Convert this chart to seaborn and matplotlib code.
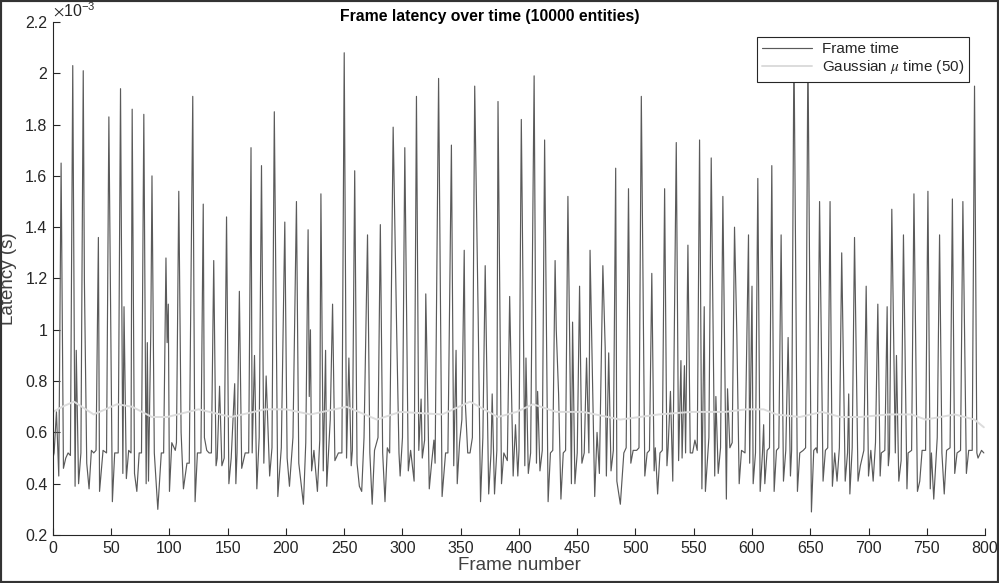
import numpy as np
import pandas as pd
import seaborn as sns
import matplotlib.pyplot as plt
from matplotlib.patches import Rectangle

# Frame time: frame index / latency (x1e-3 s)
frame_idx = [
    0, 1, 2, 3, 5, 7, 9, 11, 13, 15, 17, 19, 20, 22, 24, 26, 27, 29, 31, 33,
    35, 37, 39, 40, 43, 46, 48, 51, 53, 56, 58, 60, 61, 63, 65, 67, 68, 70, 72, 74,
    76, 78, 80, 81, 82, 84, 85, 87, 90, 93, 95, 97, 98, 99, 100, 102, 105, 106, 108, 110,
    112, 115, 117, 120, 122, 124, 127, 129, 130, 132, 134, 136, 138, 140, 141, 143, 145, 147, 149, 151,
    153, 156, 157, 158, 160, 162, 165, 168, 170, 171, 173, 175, 177, 179, 181, 183, 186, 188, 190, 193,
    196, 199, 201, 203, 206, 209, 211, 215, 217, 219, 220, 221, 222, 224, 227, 229, 230, 232, 234, 235,
    238, 240, 242, 245, 248, 250, 252, 254, 256, 257, 259, 261, 263, 265, 267, 270, 272, 274, 276, 279,
    281, 283, 285, 287, 289, 292, 295, 297, 298, 300, 302, 305, 307, 310, 312, 314, 316, 317, 319, 320,
    322, 323, 325, 327, 328, 331, 334, 337, 339, 342, 344, 346, 347, 349, 351, 353, 354, 356, 358, 360,
    362, 365, 367, 369, 371, 374, 376, 377, 379, 381, 382, 385, 387, 390, 392, 395, 397, 399, 400, 402,
    405, 406, 408, 410, 413, 415, 416, 418, 420, 422, 425, 427, 429, 431, 432, 434, 436, 438, 440, 442,
    445, 446, 448, 450, 452, 454, 456, 458, 460, 461, 465, 467, 469, 472, 474, 475, 477, 479, 481, 483,
    484, 487, 490, 492, 494, 496, 498, 501, 503, 505, 508, 510, 512, 514, 516, 517, 519, 521, 523, 525,
    527, 528, 530, 532, 535, 537, 539, 540, 542, 543, 545, 547, 549, 551, 553, 555, 557, 559, 560, 563,
    565, 568, 569, 571, 573, 575, 578, 579, 581, 583, 585, 587, 589, 591, 594, 597, 598, 600, 601, 603,
    605, 607, 609, 610, 611, 613, 615, 617, 619, 621, 623, 625, 627, 629, 631, 633, 634, 636, 639, 641,
    644, 646, 648, 651, 653, 655, 656, 658, 661, 663, 665, 667, 668, 669, 671, 673, 675, 677, 680, 682,
    683, 684, 686, 688, 691, 693, 696, 698, 700, 702, 704, 706, 708, 710, 711, 714, 716, 717, 718, 720,
    723, 724, 726, 728, 730, 733, 734, 737, 739, 742, 744, 746, 749, 751, 753, 754, 756, 759, 761, 763,
    765, 767, 770, 772, 774, 776, 779, 781, 784, 786, 789, 791, 793, 794, 797, 799,
]
frame_time = [
    0.50, 0.52, 0.60, 0.68, 0.43, 1.65, 0.46, 0.50, 0.52, 0.51, 2.03, 0.39, 0.92, 0.40, 0.52, 2.01, 1.19, 0.48, 0.38, 0.53,
    0.52, 0.53, 1.36, 0.37, 0.53, 0.52, 1.83, 0.33, 0.52, 0.52, 1.94, 0.44, 1.09, 0.42, 0.53, 0.52, 1.86, 0.44, 0.37, 0.52,
    0.52, 1.84, 0.40, 0.95, 0.41, 1.00, 1.60, 0.52, 0.30, 0.52, 0.52, 1.28, 0.95, 1.10, 0.37, 0.56, 0.53, 0.56, 1.54, 0.60,
    0.38, 0.48, 0.48, 1.91, 0.33, 0.52, 0.52, 1.49, 0.58, 0.53, 0.52, 0.52, 1.27, 0.47, 0.50, 0.78, 0.47, 0.50, 1.44, 0.40,
    0.50, 0.79, 0.40, 0.52, 1.15, 0.46, 0.52, 0.52, 1.71, 0.52, 0.90, 0.38, 0.58, 1.64, 0.48, 0.82, 0.43, 0.54, 1.85, 0.35,
    0.54, 1.42, 0.50, 0.39, 0.58, 1.50, 0.48, 0.32, 0.56, 1.39, 0.74, 1.00, 0.45, 0.53, 0.37, 0.57, 1.53, 0.45, 0.92, 0.39,
    0.65, 1.10, 0.49, 0.52, 0.52, 2.08, 0.50, 0.89, 0.47, 0.53, 1.62, 0.48, 0.39, 0.37, 0.58, 1.37, 0.52, 0.32, 0.53, 0.58,
    1.41, 0.52, 0.33, 0.54, 0.52, 1.79, 1.00, 0.52, 0.43, 0.58, 1.71, 0.45, 0.53, 0.41, 1.91, 0.53, 0.73, 0.50, 0.57, 1.14,
    0.65, 0.38, 0.48, 0.57, 0.48, 1.98, 0.35, 0.52, 0.52, 1.72, 0.47, 0.92, 0.40, 0.56, 0.65, 1.31, 0.71, 0.52, 0.52, 0.58,
    1.95, 1.04, 0.33, 0.58, 1.25, 0.36, 0.52, 0.75, 0.36, 0.53, 1.89, 0.40, 0.52, 0.49, 1.13, 0.43, 0.63, 0.43, 0.53, 1.82,
    0.47, 0.89, 0.44, 0.52, 1.99, 0.48, 0.76, 0.45, 0.53, 1.74, 0.33, 0.52, 0.53, 1.27, 1.00, 0.75, 0.34, 0.52, 0.53, 1.52,
    0.40, 1.03, 0.40, 0.52, 1.17, 0.48, 0.52, 0.89, 0.52, 1.31, 0.35, 0.60, 0.44, 1.25, 0.93, 0.43, 0.91, 0.45, 0.53, 1.63,
    0.41, 0.32, 0.52, 0.54, 1.55, 0.48, 0.53, 0.53, 0.54, 1.91, 0.43, 0.52, 0.53, 1.22, 0.45, 0.54, 0.36, 0.52, 0.53, 1.55,
    0.47, 0.54, 0.76, 0.41, 1.73, 0.49, 0.88, 0.50, 0.86, 0.52, 1.33, 0.52, 0.52, 0.57, 0.53, 1.74, 0.38, 1.09, 0.37, 0.58,
    1.67, 0.43, 0.74, 0.44, 0.54, 1.52, 0.34, 0.77, 0.54, 0.56, 1.40, 0.98, 0.40, 0.53, 0.52, 1.37, 0.48, 1.17, 0.40, 0.52,
    1.59, 0.37, 0.52, 0.63, 0.40, 0.53, 0.54, 1.64, 0.37, 0.53, 0.54, 1.37, 0.41, 0.53, 0.97, 0.43, 0.53, 2.12, 0.37, 0.52,
    0.53, 0.54, 2.10, 0.29, 0.53, 0.54, 0.52, 1.50, 0.41, 0.53, 0.54, 1.50, 0.88, 0.39, 0.52, 0.41, 0.54, 1.30, 0.41, 0.52,
    0.75, 0.36, 0.54, 1.36, 0.41, 0.47, 0.53, 1.17, 0.43, 0.53, 0.41, 0.56, 1.10, 0.43, 0.52, 0.53, 1.09, 0.47, 0.52, 1.47,
    0.52, 0.90, 0.41, 0.49, 1.37, 0.38, 0.52, 0.53, 1.53, 0.37, 0.41, 0.53, 0.53, 1.54, 0.38, 0.52, 0.34, 0.58, 1.37, 0.52,
    0.36, 0.53, 0.54, 1.51, 0.44, 0.52, 0.53, 1.50, 0.44, 0.53, 0.53, 1.95, 0.52, 0.50, 0.53, 0.52,
]

# Gaussian moving mean (window 50)
mean_idx = [0, 8, 18, 35, 55, 68, 85, 98, 125, 153, 182, 200, 221, 252, 278, 298, 334, 358, 382, 398,
            412, 432, 455, 487, 520, 548, 577, 595, 610, 621, 641, 660, 676, 693, 717, 737, 749, 774, 791, 799]
mean_time = [0.68, 0.70, 0.72, 0.67, 0.71, 0.70, 0.66, 0.66, 0.69, 0.66, 0.69, 0.69, 0.67, 0.70, 0.65, 0.68,
             0.67, 0.72, 0.66, 0.68, 0.71, 0.68, 0.68, 0.65, 0.67, 0.68, 0.68, 0.69, 0.69, 0.67, 0.66, 0.68,
             0.66, 0.66, 0.67, 0.67, 0.65, 0.67, 0.65, 0.62]

yticks = [0.2, 0.4, 0.6, 0.8, 1.0, 1.2, 1.4, 1.6, 1.8, 2.0, 2.2]
xticks = list(range(0, 801, 50))

sns.set_style("ticks")
plt.rcParams['font.family'] = ['Liberation Sans', 'DejaVu Sans']
plt.rcParams['mathtext.fontset'] = 'stix'

fig = plt.figure(figsize=(9.99, 5.83), dpi=100)
ax = fig.add_axes([0.053, 0.0823, 0.933, 0.880])

frames = pd.DataFrame({"frame": frame_idx, "latency": frame_time})
gauss = pd.DataFrame({"frame": mean_idx, "latency": mean_time})

sns.lineplot(data=frames, x="frame", y="latency", ax=ax, color="#5a5a5a",
             linewidth=0.85, estimator=None, label="Frame time")
sns.lineplot(data=gauss, x="frame", y="latency", ax=ax, color="#dcdcdc",
             linewidth=1.4, estimator=None, label=r"Gaussian $\mu$ time (50)")

ax.set_xlim(0, 800)
ax.set_ylim(0.2, 2.2)
ax.set_xticks(xticks)
ax.set_yticks(yticks)
ax.set_yticklabels(["%g" % t for t in yticks])
ax.tick_params(direction="in", length=5, width=0.8, colors="#262626",
               labelsize=11.5, pad=4)
for s in ["left", "bottom"]:
    ax.spines[s].set_color("#262626")
    ax.spines[s].set_linewidth(0.8)
sns.despine(ax=ax)

ax.set_xlabel("Frame number", fontsize=13.5, color="#404040", labelpad=1)
ax.set_ylabel("Latency (s)", fontsize=13.5, color="#404040", labelpad=6)
ax.text(0.0, 1.005, r"$\times\mathregular{10^{-3}}$", transform=ax.transAxes,
        fontsize=11.5, color="#262626", ha="left", va="bottom")
fig.text(0.49, 0.985, "Frame latency over time (10000 entities)", ha="center", va="top",
         fontsize=11.3, fontweight="bold", color="black")

leg = ax.legend(loc="upper right", bbox_to_anchor=(0.983, 0.971), borderaxespad=0,
                fontsize=11, frameon=True, fancybox=False, handlelength=3.3,
                borderpad=0.35, labelspacing=0.15, handletextpad=0.6)
leg.get_frame().set_edgecolor("#262626")
leg.get_frame().set_linewidth(0.8)
leg.get_frame().set_alpha(1)

# dark border round the whole figure
fig.patches.append(Rectangle((0, 0), 1, 1, transform=fig.transFigure, fill=False,
                             edgecolor="#333333", linewidth=3))

fig.savefig("out.png", dpi=100)
